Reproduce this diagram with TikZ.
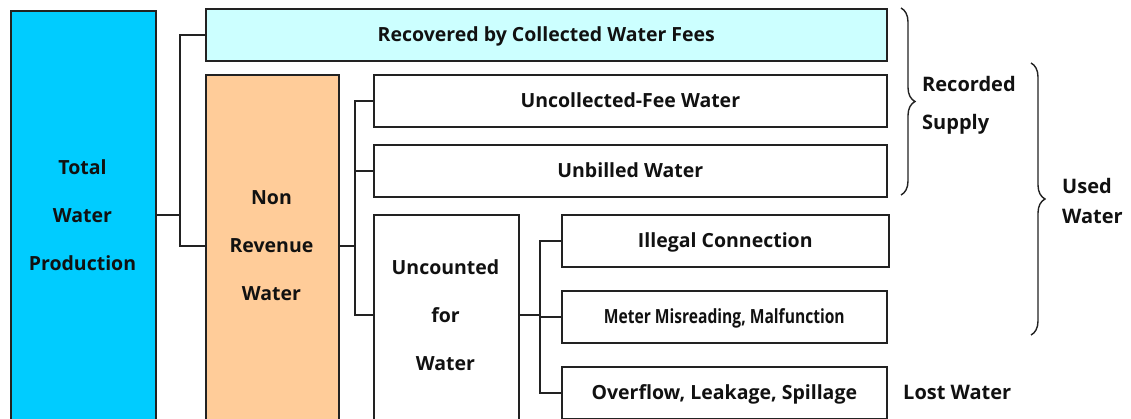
\documentclass[tikz,border=0pt]{standalone}
\usepackage{graphicx}
\usepackage{fontspec}
\setmainfont{Open Sans}
\usetikzlibrary{decorations.pathreplacing}
\definecolor{edge}{HTML}{222222}
\definecolor{ink}{HTML}{111111}
\definecolor{twpfill}{HTML}{00CCFF}
\definecolor{recfill}{HTML}{CCFFFF}
\definecolor{nrwfill}{HTML}{FFCC99}
\begin{document}
\begin{tikzpicture}[x=1pt,y=-1pt,
  box/.style={draw=edge, line width=1.6pt, rectangle, inner sep=0pt, anchor=north west,
    font=\fontsize{19.5}{24}\selectfont\bfseries, text=ink, text height=16pt, text depth=2pt},
  lbl/.style={font=\fontsize{19.5}{48}\selectfont\bfseries, align=center, text=ink, inner sep=0pt},
  side/.style={font=\fontsize{20}{#1}\selectfont\bfseries, align=left, text=ink, inner sep=0pt, anchor=west},
  wire/.style={draw=edge, line width=1.6pt},
  curly/.style={draw=edge, line width=1.4pt, decorate, decoration={brace, amplitude=14pt}}]
\useasboundingbox (0,0) rectangle (1131,419);
\clip (0,0) rectangle (1131,419);

% main boxes
\node[box, fill=twpfill, minimum width=145pt, minimum height=430pt] (twp) at (10,10) {};
\node[lbl] (twpt) at (82.5,215) {Total\\Water\\Production};

\node[box, fill=recfill, minimum width=681pt, minimum height=52pt] (rec) at (205,8) {Recovered by Collected Water Fees};

\node[box, fill=nrwfill, minimum width=133pt, minimum height=360pt] (nrw) at (205,74) {};
\node[lbl] (nrwt) at (271.5,246) {Non\\Revenue\\Water};

\node[box, fill=white, minimum width=513pt, minimum height=52pt] (ufw) at (373,74) {Uncollected-Fee Water};
\node[box, fill=white, minimum width=513pt, minimum height=52pt] (unb) at (373,144) {Unbilled Water};

\node[box, fill=white, minimum width=145pt, minimum height=220pt] (ucw) at (373,214) {};
\node[lbl] (ucwt) at (445.5,315) {Uncounted\\for\\Water};

\node[box, fill=white, minimum width=327pt, minimum height=52pt] (ill) at (561,214) {Illegal Connection};
% condensed lettering for the longest label
\node[box, fill=white, minimum width=325pt, minimum height=52pt] (met) at (561,290)
  {\scalebox{0.8}[1]{Meter Misreading, Malfunction}};
\node[box, fill=white, minimum width=325pt, minimum height=52pt] (ovf) at (561,366) {Overflow, Leakage, Spillage};

% tree connectors
\coordinate (j1) at (180,215);
\draw[wire] (twp.east |- twpt) -- (j1);
\draw[wire] (j1) |- (rec.west);
\draw[wire] (j1) |- (nrw.west |- nrwt);

\coordinate (j2) at (355,246);
\draw[wire] (nrw.east |- nrwt) -- (j2);
\draw[wire] (j2) |- (ufw.west);
\draw[wire] (j2) |- (unb.west);
\draw[wire] (j2) |- (ucw.west |- ucwt);

\coordinate (j3) at (540,315);
\draw[wire] (ucw.east |- ucwt) -- (j3);
\draw[wire] (j3) |- (ill.west);
\draw[wire] (j3) |- (met.west);
\draw[wire] (j3) |- (ovf.west);

% braces and side labels
\draw[curly] (901,8) -- (901,195);
\node[side=38] (rs) at (922,105) {Recorded\\Supply};

\draw[curly] (1031,63) -- (1031,335);
\node[side=30] (uw) at (1062,201) {Used\\Water};

\node[side=20] (lw) at (903,392) {Lost Water};
\end{tikzpicture}
\end{document}
